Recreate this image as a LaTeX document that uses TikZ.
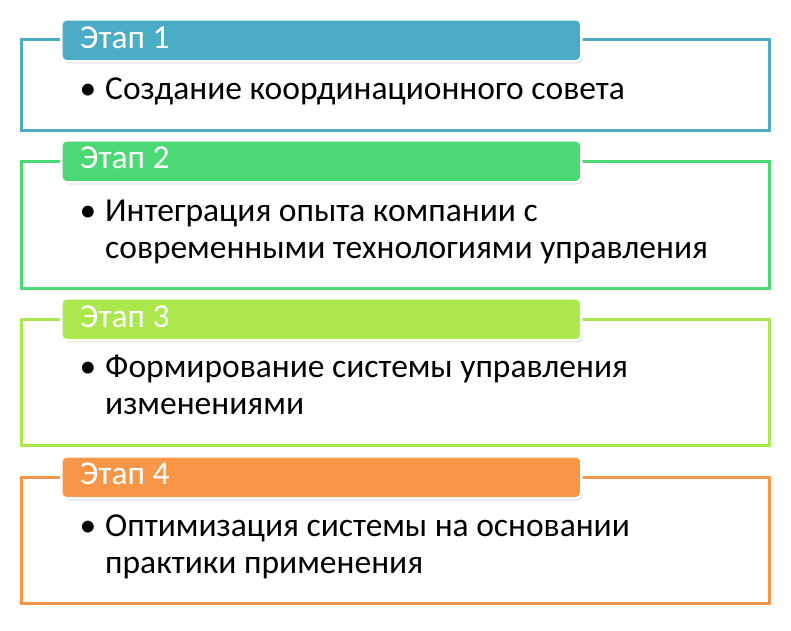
\documentclass[tikz,border=0pt]{standalone}
\usepackage{fontspec}
\setmainfont{Carlito}
\usetikzlibrary{shadows}
\definecolor{cA}{HTML}{4BACC6}
\definecolor{cB}{HTML}{4AD975}
\definecolor{cC}{HTML}{AAE84C}
\definecolor{cD}{HTML}{F79646}
\newcommand{\linesat}[1]{\begin{tabular}[t]{@{}l@{}}#1\end{tabular}}
\tikzset{
  outerbox/.style={draw=#1, line width=2.6pt, fill=white, anchor=north west, inner sep=0pt, minimum width=748pt},
  headbox/.style={fill=#1, draw=white, line width=2.6pt, rounded corners=5pt, anchor=north west, inner sep=0pt,
     minimum width=520pt, minimum height=42pt,
     drop shadow={opacity=0.35, shadow xshift=1.2pt, shadow yshift=-2pt}},
  headtext/.style={anchor=base west, inner sep=0pt, text=white, font=\fontsize{33.5}{37}\selectfont},
  bullettext/.style={anchor=base west, inner sep=0pt, font=\fontsize{33.5}{37}\selectfont},
  bulletmark/.style={anchor=base, inner sep=0pt, font=\fontsize{33.5}{37}\selectfont}
}
\begin{document}
\begin{tikzpicture}[x=1pt,y=-1pt]
\useasboundingbox[fill=white] (0,0) rectangle (791,630);
% panel 1
\node[outerbox=cA, minimum height=91pt] (o1) at (20,38) {};
\node[headbox=cA] (h1) at (60,18) {};
\node[headtext] (t1) at (80,48) {Этап 1};
\node[bulletmark] (b1) at (88,99) {•};
\node[bullettext] (x1) at (105,99) {\linesat{Создание координационного совета}};
% panel 2
\node[outerbox=cB, minimum height=127pt] (o2) at (20,160) {};
\node[headbox=cB] (h2) at (60,139) {};
\node[headtext] (t2) at (80,168) {Этап 2};
\node[bulletmark] (b2) at (88,221) {•};
\node[bullettext] (x2) at (105,221) {\linesat{Интеграция опыта компании с\\современными технологиями управления}};
% panel 3
\node[outerbox=cC, minimum height=126pt] (o3) at (20,318) {};
\node[headbox=cC] (h3) at (60,297) {};
\node[headtext] (t3) at (80,327) {Этап 3};
\node[bulletmark] (b3) at (88,377) {•};
\node[bullettext] (x3) at (105,377) {\linesat{Формирование системы управления\\изменениями}};
% panel 4
\node[outerbox=cD, minimum height=126pt] (o4) at (20,476) {};
\node[headbox=cD] (h4) at (60,455) {};
\node[headtext] (t4) at (80,484) {Этап 4};
\node[bulletmark] (b4) at (88,536) {•};
\node[bullettext] (x4) at (105,536) {\linesat{Оптимизация системы на основании\\практики применения}};
\end{tikzpicture}
\end{document}
